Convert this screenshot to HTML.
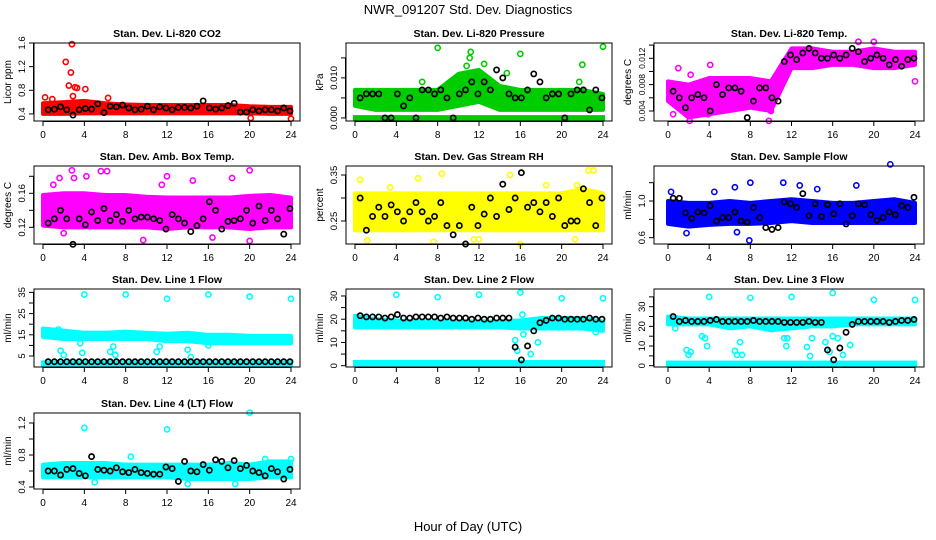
<!DOCTYPE html>
<html><head><meta charset="utf-8"><style>
html,body{margin:0;padding:0;background:#fff}
svg{display:block;font-family:"Liberation Sans",Arial,sans-serif}
</style></head><body>
<svg id="chart" width="936" height="540" viewBox="0 0 936 540" xmlns="http://www.w3.org/2000/svg">
<text x="468" y="14" text-anchor="middle" font-size="13">NWR_091207  Std. Dev. Diagnostics</text>
<text x="468" y="531" text-anchor="middle" font-size="13">Hour of Day (UTC)</text>
</svg>
<script>
// ---- data ----
const bandHours = [0,2,4,6,8,10,12,14,16,18,20,22,24];
const xTicks = [0,4,8,12,16,20,24];
const titles = ["Stan. Dev. Li-820 CO2","Stan. Dev. Li-820 Pressure","Stan. Dev. Li-820 Temp.","Stan. Dev. Amb. Box Temp.","Stan. Dev. Gas Stream RH","Stan. Dev. Sample Flow","Stan. Dev. Line 1 Flow","Stan. Dev. Line 2 Flow","Stan. Dev. Line 3 Flow","Stan. Dev. Line 4 (LT) Flow"];
const yLabels = ["Licor ppm","kPa","degrees C","degrees C","percent","ml/min","ml/min","ml/min","ml/min","ml/min"];
const colors = ["#ff0000","#00cd00","#ff00ff","#ff00ff","#ffff00","#0000ff","#00ffff","#00ffff","#00ffff","#00ffff"];
const yRanges = [[0.28,1.6],[-0.00077,0.01872],[0.00248,0.01432],[0.1004,0.1921],[0.2,0.3696],[0.531,1.382],[-0.18,36.6],[-0.56,33.0],[-0.66,39.0],[0.375,1.325]];
const yTickVals = [[0.4,0.8,1.2,1.6],[0,0.005,0.01,0.015],[0.004,0.006,0.008,0.01,0.012,0.014],[0.12,0.14,0.16,0.18],[0.25,0.3,0.35],[0.6,0.8,1.0,1.2],[5,10,15,20,25,30,35],[0,5,10,15,20,25,30],[0,5,10,15,20,25,30,35],[0.4,0.6,0.8,1.0,1.2]];
const yTickLabels = [["0.4","0.8","1.2","1.6"],["0.000","","0.010",""],["0.004","","0.008","","0.012",""],["0.12","","0.16",""],["0.25","","0.35"],["0.6","","1.0",""],["5","","15","","25","","35"],["0","","10","","20","","30"],["0","","10","","20","","30",""],["0.4","","0.8","","1.2"]];
const bandHi = [
[0.58,0.60,0.62,0.58,0.56,0.55,0.55,0.55,0.55,0.55,0.53,0.52,0.52],
[0.007,0.007,0.007,0.007,0.007,0.011,0.012,0.008,0.007,0.007,0.007,0.007,0.006],
[0.0085,0.008,0.009,0.009,0.009,0.0085,0.0135,0.0135,0.013,0.013,0.0135,0.013,0.013],
[0.158,0.16,0.16,0.158,0.158,0.156,0.155,0.155,0.155,0.155,0.157,0.158,0.155],
[0.31,0.31,0.31,0.31,0.31,0.31,0.31,0.31,0.31,0.31,0.31,0.32,0.31],
[1.0,0.98,0.98,1.0,0.98,1.0,1.02,1.0,0.98,0.98,1.0,1.02,0.98],
[18,17,16,16,16.5,16,15.5,16,15,15,14.5,14.5,14.5],
[21.5,20,19.5,19,19,19,19,19,19.5,20.5,20.5,20.5,19],
[25,24,24,24,24,24,24,24,24,24,24,24,24],
[0.68,0.7,0.7,0.7,0.68,0.68,0.68,0.68,0.68,0.7,0.68,0.72,0.72]];
const bandLo = [
[0.40,0.40,0.41,0.41,0.41,0.41,0.41,0.41,0.41,0.41,0.41,0.40,0.40],
[0.003,0.002,0.002,0.002,0.002,0.003,0.004,0.002,0.002,0.002,0.002,0.002,0.002],
[0.0055,0.003,0.0035,0.004,0.0045,0.004,0.0105,0.0105,0.011,0.011,0.0105,0.0105,0.011],
[0.122,0.12,0.12,0.12,0.12,0.12,0.118,0.12,0.12,0.12,0.118,0.12,0.12],
[0.23,0.23,0.23,0.23,0.23,0.23,0.23,0.23,0.23,0.23,0.23,0.23,0.23],
[0.75,0.72,0.74,0.75,0.75,0.76,0.78,0.76,0.76,0.76,0.76,0.76,0.76],
[14,13,13,13,13,13,12,12,11,11,11,11,11],
[16.5,16.5,16.5,16.5,16.5,16.5,16.5,16.5,16,16,16,16,15],
[21,21,21,19,20,18,19,20,20,21,21,21,21],
[0.52,0.52,0.52,0.52,0.52,0.52,0.52,0.5,0.5,0.5,0.5,0.52,0.52]];
const base = [null,[-0.0002,0.0002],null,null,null,null,[1.0,2.0],[0.6,1.6],[0.6,1.6],null];
const outliers = [
[[0.2,0.68],[0.9,0.65],[2.2,1.28],[2.5,0.88],[2.7,1.1],[2.8,1.58],[2.9,0.7],[3.1,0.85],[3.3,0.84],[4.1,0.82],[6.3,0.67],[24,0.32],[20.1,0.33]],
[[8,0.0175],[11.2,0.0165],[11.1,0.015],[16,0.016],[24,0.0178],[22,0.0133],[12.5,0.0135],[10.8,0.013],[14.7,0.0112],[6.5,0.009],[21.7,0.009]],
[[0.5,0.0035],[1.0,0.0105],[2.1,0.0025],[2.2,0.0095],[4.1,0.011],[3.9,0.0035],[9.8,0.0025],[10,0.004],[18.5,0.0145],[20,0.0145],[24,0.0085]],
[[1.6,0.178],[2.8,0.187],[3,0.178],[4.2,0.18],[5.6,0.186],[6.2,0.186],[12,0.18],[18.3,0.178],[20,0.187],[1,0.17],[11.5,0.17],[20,0.104],[16.4,0.108],[9.7,0.105],[2,0.113],[14.5,0.175]],
[[0.5,0.34],[6.1,0.343],[8.4,0.353],[15,0.35],[22.6,0.36],[23.1,0.36],[18.5,0.328],[3.4,0.323],[21.5,0.328],[16,0.2],[7.6,0.205],[1.2,0.208],[11.5,0.21],[21.3,0.21],[12,0.21]],
[[7.9,0.57],[8,1.2],[6.5,1.15],[11.2,1.2],[12.8,1.17],[18.3,1.17],[21.6,1.4],[1.8,0.65],[6.7,0.66],[4.5,1.1],[14.5,1.13],[0.3,1.1]],
[[4,34],[8,34],[12,32],[16,34],[20,33],[24,32],[1.7,7.5],[2,5.5],[3.8,6.5],[6.5,7],[6.8,9.5],[7,5.5],[11,7],[11.3,9.5],[14,8],[14.3,4.5],[16,10],[3.6,11],[1.5,17.5]],
[[4,30.5],[8,29.5],[12,30.5],[16,31.5],[20,29],[24,29],[15.5,11],[15.7,6.5],[16.3,13.5],[17,5],[17.7,10],[16.2,22],[23.3,14.5]],
[[4,35],[8,34.5],[12,35],[16,37],[20,33.5],[24,33.5],[0.7,19],[1.8,8],[2,5.5],[2.2,7],[3.3,15],[3.6,14],[3.8,10],[6.5,7.5],[6.7,5.5],[7,12],[7.2,5.5],[11.3,14],[11.5,10],[11.6,14],[13.5,9.5],[13.8,5],[14,14],[15.3,12],[16,15],[16.5,14],[17,5.5],[17.7,10.5],[15.7,7]],
[[4,1.14],[12,1.12],[20,1.33],[24,0.75],[5,0.46],[14,0.44],[18.6,0.44],[8.5,0.78],[21.5,0.75]]];
const blackHours = [0.5,1.1,1.7,2.3,2.9,3.5,4.1,4.7,5.3,5.9,6.5,7.1,7.7,8.3,8.9,9.5,10.1,10.7,11.3,11.9,12.5,13.1,13.7,14.3,14.9,15.5,16.1,16.7,17.3,17.9,18.5,19.1,19.7,20.3,20.9,21.5,22.1,22.7,23.3,23.9];
const blackVals = [
[0.47,0.48,0.52,0.47,0.38,0.47,0.49,0.48,0.57,0.42,0.53,0.52,0.55,0.5,0.47,0.48,0.53,0.47,0.52,0.5,0.47,0.51,0.51,0.5,0.53,0.62,0.5,0.48,0.5,0.54,0.58,0.43,0.43,0.47,0.45,0.47,0.47,0.45,0.5,0.45],
[0.005,0.006,0.006,0.006,0,0,0.006,0.003,0.005,0,0.007,0.007,0.006,0.007,0.005,0,0.006,0.007,0.009,0.006,0.009,0.007,0.012,0.010,0.006,0.005,0.005,0.007,0.011,0.009,0.005,0.006,0.006,0,0.006,0.007,0.007,0.002,0.007,0.005],
[0.007,0.006,0.0045,0.006,0.0065,0.006,0.004,0.008,0.0065,0.0075,0.0075,0.007,0.003,0.0055,0.0075,0.0075,0.006,0.0055,0.0115,0.0125,0.0118,0.0128,0.0135,0.0128,0.012,0.012,0.0125,0.012,0.0125,0.0135,0.013,0.0115,0.012,0.0125,0.012,0.011,0.0118,0.0108,0.0118,0.012],
[0.125,0.13,0.14,0.13,0.1,0.13,0.123,0.138,0.128,0.142,0.128,0.135,0.127,0.14,0.13,0.132,0.132,0.13,0.128,0.118,0.135,0.13,0.125,0.115,0.122,0.13,0.15,0.14,0.118,0.127,0.128,0.13,0.14,0.125,0.145,0.128,0.14,0.13,0.112,0.142],
[0.3,0.23,0.26,0.28,0.26,0.285,0.27,0.25,0.27,0.29,0.27,0.25,0.26,0.29,0.24,0.22,0.24,0.2,0.28,0.24,0.265,0.3,0.26,0.33,0.275,0.3,0.355,0.28,0.29,0.27,0.29,0.26,0.3,0.24,0.25,0.25,0.32,0.29,0.24,0.3],
[1.03,1.03,0.87,0.81,0.88,0.87,0.95,0.78,0.82,0.82,0.88,0.78,0.77,0.93,0.82,0.71,0.69,0.71,0.99,0.97,0.93,1.08,0.84,0.97,0.83,0.96,0.86,0.97,0.75,0.84,0.97,0.96,0.85,0.79,0.82,0.88,0.85,0.95,0.93,1.04],
[2.3,2.3,2.3,2.3,2.3,2.3,2.3,2.3,2.3,2.3,2.3,2.3,2.3,2.3,2.3,2.3,2.3,2.3,2.3,2.3,2.3,2.3,2.3,2.3,2.3,2.3,2.3,2.3,2.3,2.3,2.3,2.3,2.3,2.3,2.3,2.3,2.3,2.3,2.3,2.3],
[21.5,21,21,21,20.5,21,22,20.5,20.5,21,21,21,21,20.5,21,20.5,20.5,20.5,20,20.5,20,20,20.5,20.5,20.5,8,2.5,8.5,15,18.5,19.5,20.5,20.5,20,20,20,20,20.5,20,20],
[25,22.5,23,22.5,22.5,22.5,23,23.5,22.5,22.5,22.5,22.5,22.5,23,22.5,22.5,22.5,22.5,22,22,22,22,22.5,22,22,8,3,9,17,21,22.5,22.5,22.5,22.5,22.5,22,22.5,23,23,23.5],
[0.6,0.6,0.55,0.62,0.63,0.57,0.54,0.78,0.62,0.61,0.6,0.64,0.59,0.58,0.62,0.58,0.57,0.56,0.56,0.65,0.63,0.47,0.72,0.6,0.59,0.68,0.61,0.74,0.72,0.64,0.73,0.63,0.67,0.6,0.58,0.54,0.63,0.59,0.5,0.62]];

// ---- layout ----
const colBox = [[34,300,43,291],[346,612,355,603],[654,924,668,915]];
const rowBox = [[43,121],[166,244],[289,367],[413,489]];
const NS = "http://www.w3.org/2000/svg";
const svg = document.getElementById('chart');
function mk(tag, attrs, parent){ const e=document.createElementNS(NS,tag); for(const k in attrs) e.setAttribute(k,attrs[k]); (parent||svg).appendChild(e); return e; }

titles.forEach((t, p) => {
  const c = colBox[p % 3], r = rowBox[Math.floor(p / 3)];
  const [L,R,X0,X24] = c, [T,B] = r;
  const [ylo, yhi] = yRanges[p];
  const xs = h => X0 + (X24 - X0) * h / 24;
  const ys = v => B - (B - T) * (v - ylo) / (yhi - ylo);
  const g = mk('g', {});
  
  
  const clipId = 'clip' + p;
  const cp = mk('clipPath', {id: clipId}, g);
  mk('rect', {x: L, y: T, width: R - L, height: B - T}, cp);
  const col = colors[p];
  let pts = bandHours.map((h, i) => xs(h) + ',' + ys(bandHi[p][i])).join(' ') + ' ' +
    bandHours.slice().reverse().map((h, j) => xs(h) + ',' + ys(bandLo[p][bandHours.length - 1 - j])).join(' ');
  const band = mk('polygon', {points: pts, fill: col, stroke: col, 'stroke-width': 4, 'stroke-linejoin': 'round', 'clip-path': 'url(#' + clipId + ')'}, g);
  
  
  if (base[p]) {
    const bl = mk('rect', {x: xs(0) - 2, y: ys(base[p][1]) - 2, width: xs(24) - xs(0) + 4, height: Math.max(2, ys(base[p][0]) - ys(base[p][1])) + 4, fill: col}, g);
    
    
  }
  outliers[p].forEach(o => {
    const cc = mk('circle', {cx: xs(o[0]), cy: ys(o[1]), r: 2.6, fill: 'none', stroke: col, 'stroke-width': 1.6}, g);
    
    
  });
  blackHours.forEach((h, i) => {
    const cc = mk('circle', {cx: xs(h), cy: ys(blackVals[p][i]), r: 2.6, fill: 'none', stroke: '#000', 'stroke-width': 1.7}, g);
    
    
  });
  const fr = mk('rect', {x: L, y: T, width: R - L, height: B - T, fill: 'none', stroke: '#000', 'stroke-width': 1}, g);
  
  
  const tt = mk('text', {x: (L + R) / 2, y: T - 6, 'text-anchor': 'middle', 'font-size': 10.5, 'font-weight': 'bold'}, g);
  tt.textContent = t;
  
  
  mk('line', {x1: xs(0), x2: xs(24), y1: B + 0.5, y2: B + 0.5, stroke: '#000'}, g);
  xTicks.forEach(v => {
    mk('line', {x1: xs(v), x2: xs(v), y1: B, y2: B + 5, stroke: '#000'}, g);
    const tx = mk('text', {x: xs(v), y: B + 17, 'text-anchor': 'middle', 'font-size': 10}, g);
    tx.textContent = v;
    
    
  });
  const tv = yTickVals[p];
  const fs = p === 2 ? 8.5 : 9.5;
  mk('line', {x1: L - 0.5, x2: L - 0.5, y1: ys(tv[0]), y2: ys(tv[tv.length - 1]), stroke: '#000'}, g);
  tv.forEach((v, i) => {
    mk('line', {x1: L - 5, x2: L, y1: ys(v), y2: ys(v), stroke: '#000'}, g);
    const lab = yTickLabels[p][i];
    if (lab) {
      const ty = mk('text', {x: 0, y: 0, 'text-anchor': 'middle', 'font-size': fs, transform: 'translate(' + (L - 9) + ',' + ys(v) + ') rotate(-90)'}, g);
      ty.textContent = lab;
      
      
    }
  });
  const yl = mk('text', {x: 0, y: 0, 'text-anchor': 'middle', 'font-size': 10, transform: 'translate(' + (L - 23) + ',' + ((T + B) / 2) + ') rotate(-90)'}, g);
  yl.textContent = yLabels[p];
  
  
});
</script>
</body></html>
